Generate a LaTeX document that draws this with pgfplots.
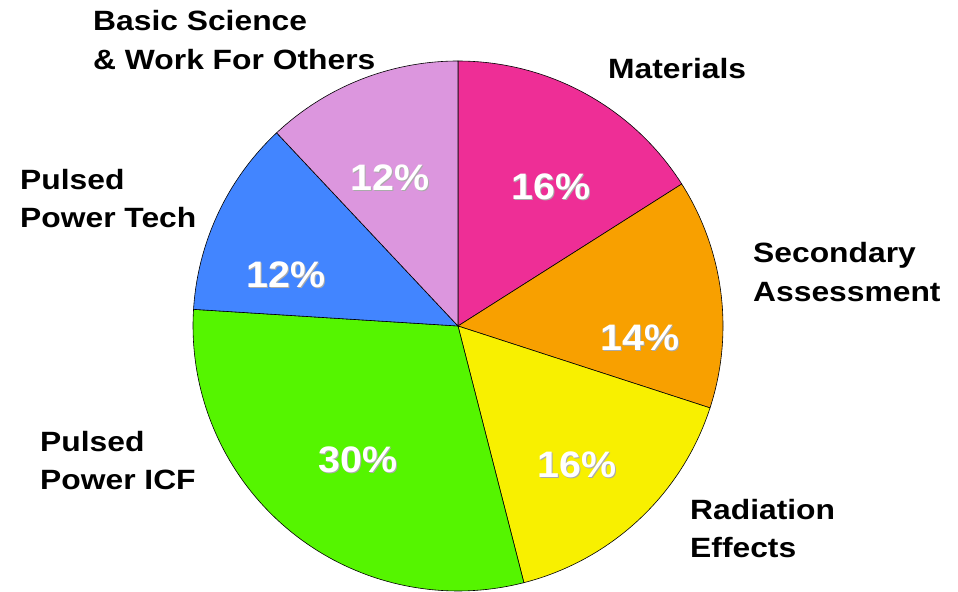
\documentclass[border=0pt]{standalone}
\usepackage{pgfplots}
\pgfplotsset{compat=1.18}
\usepackage{fontspec}
\setmainfont{Liberation Sans}
\newfontfamily\labfont[FakeStretch=1.14]{Liberation Sans}
\newfontfamily\pctfont[FakeStretch=1.07]{Liberation Sans}

\definecolor{matcol}{RGB}{238,46,150}
\definecolor{seccol}{RGB}{248,160,0}
\definecolor{radcol}{RGB}{248,240,0}
\definecolor{icfcol}{RGB}{85,245,0}
\definecolor{techcol}{RGB}{66,133,255}
\definecolor{bascol}{RGB}{220,150,222}
\definecolor{shadecol}{RGB}{170,170,170}

% shares in percent, clockwise from twelve o'clock
\def\vMat{16}
\def\vSec{14}
\def\vRad{16}
\def\vIcf{30}
\def\vTech{12}
\def\vBas{12}

% slice boundaries in degrees
\pgfmathsetmacro{\aZ}{90}
\pgfmathsetmacro{\aA}{\aZ-3.6*\vMat}
\pgfmathsetmacro{\aB}{\aA-3.6*\vSec}
\pgfmathsetmacro{\aC}{\aB-3.6*\vRad}
\pgfmathsetmacro{\aD}{\aC-3.6*\vIcf}
\pgfmathsetmacro{\aE}{\aD-3.6*\vTech}
\pgfmathsetmacro{\aF}{\aE-3.6*\vBas}

\newcommand{\pct}[2]{%
  \node[text=shadecol,font=\pctfont\bfseries\fontsize{37}{40}\selectfont] at (axis cs:#1) [xshift=1.2bp,yshift=-1.2bp] {#2\%};
  \node[text=white,font=\pctfont\bfseries\fontsize{37}{40}\selectfont] at (axis cs:#1) {#2\%};}
\newcommand{\lab}[2]{%
  \node[anchor=base west,inner sep=0pt,font=\labfont\bfseries\fontsize{28}{32}\selectfont] at (axis cs:#1) {#2};}

\begin{document}
\begin{tikzpicture}
\begin{axis}[
  width=958bp, height=592bp, scale only axis,
  xmin=-458, xmax=500, ymin=-266, ymax=326,
  hide axis, clip=false,
  every axis plot/.append style={data cs=polar, samples=80, draw=black, line width=0.6pt},
]
\path (axis cs:-458,-266) rectangle (axis cs:500,326);

\addplot[fill=matcol, domain=\aA:\aZ] {265} -- (axis cs:0,0) -- cycle;
\addplot[fill=seccol, domain=\aB:\aA] {265} -- (axis cs:0,0) -- cycle;
\addplot[fill=radcol, domain=\aC:\aB] {265} -- (axis cs:0,0) -- cycle;
\addplot[fill=icfcol, domain=\aD:\aC] {265} -- (axis cs:0,0) -- cycle;
\addplot[fill=techcol, domain=\aE:\aD] {265} -- (axis cs:0,0) -- cycle;
\addplot[fill=bascol, domain=\aF:\aE] {265} -- (axis cs:0,0) -- cycle;

% percentages inside the slices
\pct{93,139}{\vMat}
\pct{182,-12}{\vSec}
\pct{119,-139}{\vRad}
\pct{-100,-134}{\vIcf}
\pct{-172,51}{\vTech}
\pct{-68,148}{\vBas}

% category names outside the pie
\lab{150,247}{Materials}
\lab{295,63}{Secondary}
\lab{295,24}{Assessment}
\lab{232,-194}{Radiation}
\lab{232,-232}{Effects}
\lab{-418,-126}{Pulsed}
\lab{-418,-164}{Power ICF}
\lab{-438,136}{Pulsed}
\lab{-438,98}{Power Tech}
\lab{-365,295}{Basic Science}
\lab{-365,256}{\& Work For Others}
\end{axis}
\end{tikzpicture}
\end{document}
